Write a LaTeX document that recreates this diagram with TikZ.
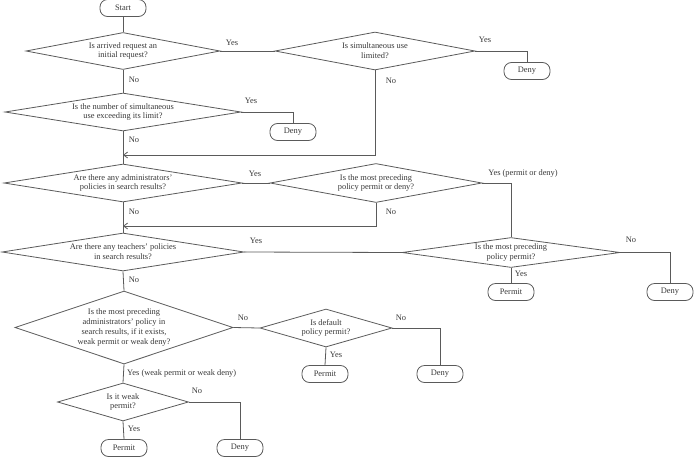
\documentclass[tikz,border=0pt]{standalone}
\usepackage{fontspec}
\setmainfont{Liberation Serif}
\usetikzlibrary{shapes.geometric,arrows.meta}
\definecolor{lc}{RGB}{90,90,90}
\definecolor{tc}{RGB}{55,55,55}
\tikzset{
  dia/.style={draw=lc,line width=0.8pt,shape=diamond,inner sep=0pt},
  term/.style={draw=lc,line width=0.8pt,rounded corners=7.5pt,inner sep=0pt,minimum width=46pt,minimum height=17pt,font=\fontsize{8.4}{9.8}\selectfont,text=tc},
  dtxt/.style={font=\fontsize{8.4}{9.8}\selectfont,text=tc,align=center},
  lab/.style={font=\fontsize{8.4}{9.8}\selectfont,text=tc,inner sep=0pt},
  conn/.style={draw=lc,line width=0.8pt},
  arr/.style={conn,-{Straight Barb[length=4pt,width=6pt]}},
}
\begin{document}
\begin{tikzpicture}[x=1pt,y=-1pt]
\useasboundingbox (0,0) rectangle (695,458);
% terminals
\node[term] (start) at (123,8) {Start};
\node[term] (deny1) at (527,71) {Deny};
\node[term] (deny2) at (293,132) {Deny};
\node[term] (permit1) at (511,292) {Permit};
\node[term] (deny3) at (670,292) {Deny};
\node[term] (permit2) at (325,374) {Permit};
\node[term] (deny4) at (440,374) {Deny};
\node[term] (permit3) at (124,448) {Permit};
\node[term] (deny5) at (240,448) {Deny};
% decisions
\node[dia,minimum width=194pt,minimum height=37pt,label={[dtxt]center:Is arrived request an\\initial request?}] (d1) at (123,51) {};
\node[dia,minimum width=200pt,minimum height=38pt,label={[dtxt]center:Is simultaneous use\\limited?}] (d2) at (375,51) {};
\node[dia,minimum width=236pt,minimum height=38pt,label={[dtxt]center:Is the number of simultaneous\\use exceeding its limit?}] (d3) at (123,112) {};
\node[dia,minimum width=238pt,minimum height=38pt,label={[dtxt]center:Are there any administrators'\\policies in search results?}] (d4) at (123,183) {};
\node[dia,minimum width=212pt,minimum height=39pt,label={[dtxt]center:Is the most preceding\\policy permit or deny?}] (d5) at (376,183) {};
\node[dia,minimum width=242pt,minimum height=38pt,label={[dtxt]center:Are there any teachers' policies\\in search results?}] (d6) at (123,252) {};
\node[dia,minimum width=218pt,minimum height=30pt,label={[dtxt]center:Is the most preceding\\policy permit?}] (d7) at (511,252.5) {};
\node[dia,minimum width=218pt,minimum height=73pt,label={[dtxt]center:Is the most preceding\\administrators' policy in\\search results, if it exists,\\weak permit or weak deny?}] (d8) at (124,327.5) {};
\node[dia,minimum width=132pt,minimum height=38pt,label={[dtxt]center:Is default\\policy permit?}] (d9) at (326,328) {};
\node[dia,minimum width=131pt,minimum height=38pt,label={[dtxt]center:Is it weak\\permit?}] (d10) at (123,402) {};
% merge points
\coordinate (m1) at (123,155);
\coordinate (m2) at (123,226);
% connectors
\draw[conn] (start.south) -- (d1.north);
\draw[conn] (d1.east) -- (d2.west);
\draw[conn] (d2.east) -| (deny1.north);
\draw[arr] (d2.south) |- (m1);
\draw[conn] (d1.south) -- (d3.north);
\draw[conn] (d3.east) -| (deny2.north);
\draw[conn] (d3.south) -- (d4.north);
\draw[conn] (d4.east) -- (d5.west);
\draw[conn] (d5.east) -| (d7.north);
\draw[arr] (d5.south) |- (m2);
\draw[conn] (d4.south) -- (d6.north);
\draw[conn] (d6.east) -- (d7.west);
\draw[conn] (d7.east) -| (deny3.north);
\draw[conn] (d7.south) -- (permit1.north);
\draw[conn] (d6.south) -- (d8.north);
\draw[conn] (d8.east) -- (d9.west);
\draw[conn] (d9.east) -| (deny4.north);
\draw[conn] (d9.south) -- (permit2.north);
\draw[conn] (d8.south) -- (d10.north);
\draw[conn] (d10.east) -| (deny5.north);
\draw[conn] (d10.south) -- (permit3.north);
% labels
\node[lab] (l1) at (232,43) {Yes};
\node[lab] (l2) at (485,40) {Yes};
\node[lab] (l3) at (134,80) {No};
\node[lab] (l4) at (391,81) {No};
\node[lab] (l5) at (251,101) {Yes};
\node[lab] (l6) at (134,140) {No};
\node[lab] (l7) at (255,174) {Yes};
\node[lab] (l8) at (523,173) {Yes (permit or deny)};
\node[lab] (l9) at (391,212) {No};
\node[lab] (l10) at (134,212) {No};
\node[lab] (l11) at (256,241) {Yes};
\node[lab] (l12) at (631,240) {No};
\node[lab] (l13) at (521,274) {Yes};
\node[lab] (l14) at (134,280) {No};
\node[lab] (l15) at (243,318) {No};
\node[lab] (l16) at (401,318) {No};
\node[lab] (l17) at (336,355) {Yes};
\node[lab,anchor=west] (l18) at (127,373) {Yes (weak permit or weak deny)};
\node[lab] (l19) at (197,391) {No};
\node[lab] (l20) at (134,429) {Yes};
\end{tikzpicture}
\end{document}
